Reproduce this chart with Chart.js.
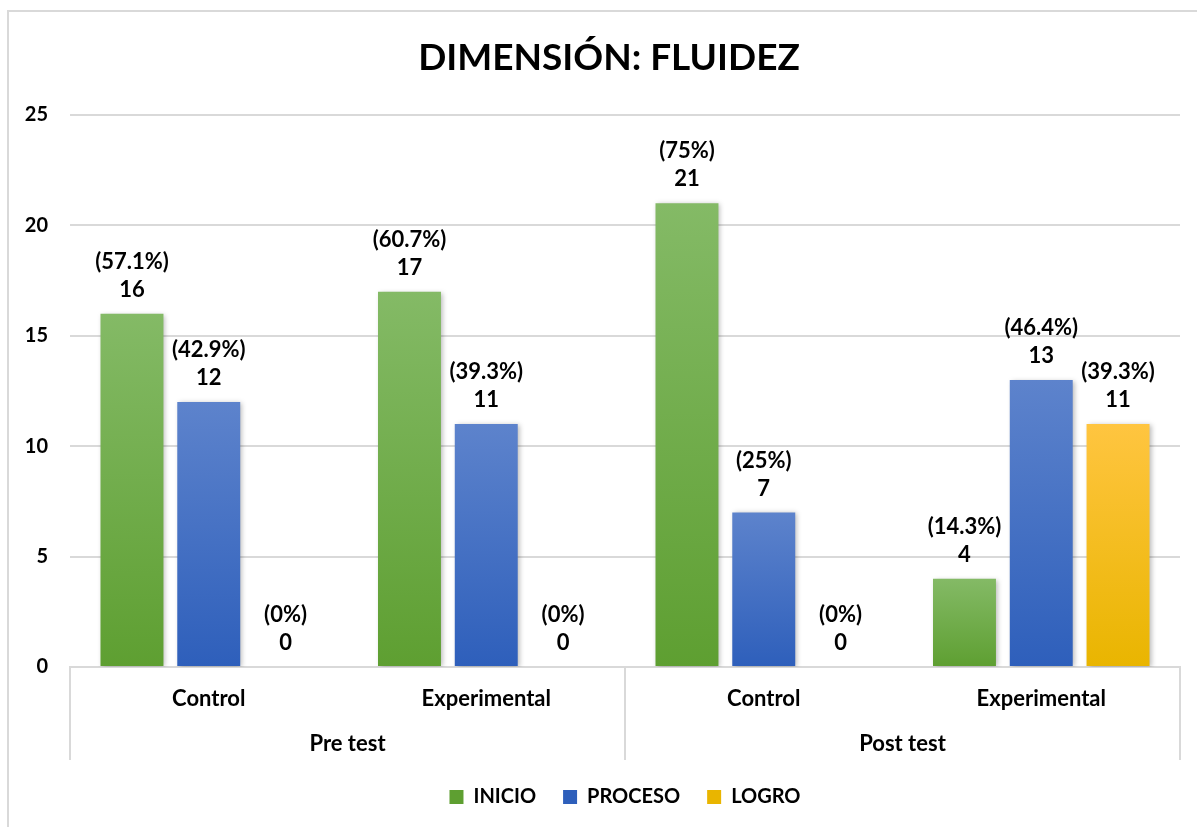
<!DOCTYPE html>
<html>
<head>
<meta charset="utf-8">
<script src="https://cdn.jsdelivr.net/npm/chart.js@4.4.1/dist/chart.umd.min.js"></script>
<style>
  html, body { margin: 0; padding: 0; background: #fff; }
  #wrap { position: relative; width: 1197px; height: 827px; overflow: hidden; }
  #frame { position: absolute; left: 7px; top: 10px; width: 1300px; height: 900px; border: 2px solid #d9d9d9; box-sizing: border-box; }
  canvas { position: absolute; left: 0; top: 0; }
</style>
</head>
<body>
<div id="wrap">
  <div id="frame"></div>
  <canvas id="c" width="1197" height="827"></canvas>
</div>
<script>
const titleText = 'DIMENSIÓN: FLUIDEZ';
const categories = ['Control', 'Experimental', 'Control', 'Experimental'];
const groups = ['Pre test', 'Post test'];
const seriesNames = ['INICIO', 'PROCESO', 'LOGRO'];
const inicio = [16, 17, 21, 4];
const proceso = [12, 11, 7, 13];
const logro = [0, 0, 0, 11];
const inicioPct = ['57.1%', '60.7%', '75%', '14.3%'];
const procesoPct = ['42.9%', '39.3%', '25%', '46.4%'];
const logroPct = ['0%', '0%', '0%', '39.3%'];
const yTicks = [0, 5, 10, 15, 20, 25];

const FONT = 'Lato, "Open Sans", sans-serif';
const colors = [
  ['#84ba66', '#5e9f31'],
  ['#5d83cc', '#2e5fbb'],
  ['#ffc540', '#e9b500']
];

function barGradient(idx) {
  return function (ctx) {
    const chart = ctx.chart;
    if (!chart.chartArea || ctx.type !== 'data') return colors[idx][1];
    const y = chart.scales.y;
    const top = y.getPixelForValue(ctx.raw || 0);
    const bottom = y.getPixelForValue(0);
    if (!(bottom - top > 0.5)) return colors[idx][1];
    const g = chart.ctx.createLinearGradient(0, top, 0, bottom);
    g.addColorStop(0, colors[idx][0]);
    g.addColorStop(1, colors[idx][1]);
    return g;
  };
}

const pctLists = [inicioPct, procesoPct, logroPct];

const labelPlugin = {
  id: 'labels',
  beforeDatasetsDraw(chart) {
    const c = chart.ctx;
    c.save();
    c.shadowColor = 'rgba(0,0,0,0.28)';
    c.shadowBlur = 5;
    c.shadowOffsetX = 2;
    c.shadowOffsetY = 1;
  },
  afterDatasetsDraw(chart) {
    const c = chart.ctx;
    c.restore();
    c.save();
    c.fillStyle = '#000';
    c.font = 'bold 22px ' + FONT;
    c.textAlign = 'center';
    c.textBaseline = 'middle';
    chart.data.datasets.forEach((ds, di) => {
      const meta = chart.getDatasetMeta(di);
      meta.data.forEach((el, i) => {
        c.fillText(String(ds.data[i]), el.x, el.y - 24);
        c.fillText('(' + pctLists[di][i] + ')', el.x, el.y - 52);
      });
    });
    c.restore();
  },
  afterDraw(chart) {
    const c = chart.ctx;
    const x = chart.scales.x;
    const area = chart.chartArea;
    c.save();
    c.fillStyle = '#000';
    c.font = 'bold 37px ' + FONT;
    c.textAlign = 'center';
    c.textBaseline = 'middle';
    c.fillText(titleText, 609, 58);
    c.strokeStyle = '#d9d9d9';
    c.lineWidth = 2;
    const mid = (x.getPixelForValue(1) + x.getPixelForValue(2)) / 2;
    [x.left, mid, x.right].forEach(px => {
      c.beginPath();
      c.moveTo(px, area.bottom);
      c.lineTo(px, area.bottom + 93);
      c.stroke();
    });
    c.font = 'bold 22px ' + FONT;
    groups.forEach((g, gi) => {
      const cx = (x.getPixelForValue(gi * 2) + x.getPixelForValue(gi * 2 + 1)) / 2;
      c.fillText(g, cx, area.bottom + 77);
    });
    c.restore();
  }
};

new Chart(document.getElementById('c'), {
  type: 'bar',
  data: {
    labels: categories,
    datasets: [
      { label: seriesNames[0], data: inicio, backgroundColor: barGradient(0) },
      { label: seriesNames[1], data: proceso, backgroundColor: barGradient(1) },
      { label: seriesNames[2], data: logro, backgroundColor: barGradient(2) }
    ]
  },
  options: {
    responsive: false,
    animation: false,
    devicePixelRatio: 1,
    categoryPercentage: 0.83,
    barPercentage: 0.82,
    layout: { padding: { left: 0, right: 17, top: 115, bottom: 10 } },
    plugins: {
      title: { display: false },
      tooltip: { enabled: false },
      legend: {
        display: true,
        position: 'bottom',
        fullSize: false,
        labels: {
          color: '#000',
          font: { family: FONT, size: 20, weight: 'bold' },
          boxWidth: 14,
          boxHeight: 14,
          padding: 27,
          generateLabels(chart) {
            return chart.data.datasets.map((ds, i) => ({
              text: ds.label,
              fillStyle: colors[i][1],
              strokeStyle: 'rgba(0,0,0,0)',
              lineWidth: 0,
              datasetIndex: i,
              hidden: false,
              fontColor: '#000'
            }));
          }
        }
      }
    },
    scales: {
      x: {
        grid: { display: false, drawTicks: false },
        border: { display: true, color: '#d9d9d9', width: 2 },
        ticks: { color: '#000', font: { family: FONT, size: 22, weight: 'bold' }, padding: 19, maxRotation: 0 },
        afterFit(scale) { scale.height = 93; }
      },
      y: {
        min: 0,
        max: 25,
        afterBuildTicks(scale) { scale.ticks = yTicks.map(v => ({ value: v })); },
        grid: { color: '#d9d9d9', lineWidth: 2, drawTicks: false },
        border: { display: false },
        ticks: { color: '#000', font: { family: FONT, size: 20, weight: 'bold' }, padding: 22 },
        afterFit(scale) { scale.width = 70; }
      }
    }
  },
  plugins: [labelPlugin]
});
</script>
</body>
</html>
